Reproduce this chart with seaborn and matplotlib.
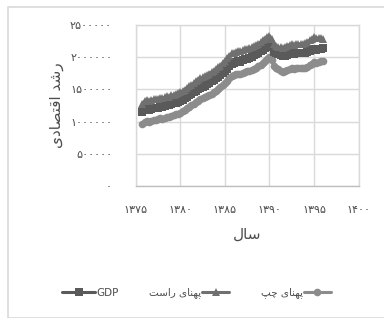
import numpy as np
import pandas as pd
import matplotlib
matplotlib.use("Agg")
import matplotlib.pyplot as plt
from matplotlib.patches import Rectangle
import seaborn as sns

# quarterly series, 1375 Q4 .. 1396 Q1 (solar hijri years)
years = np.arange(1375.75, 1396.01, 0.25)

gdp = [1150000, 1185000, 1195000, 1180000, 1200000, 1210000, 1205000, 1215000, 1230000, 1225000,
       1240000, 1255000, 1250000, 1270000, 1285000, 1295000, 1305000, 1320000, 1340000, 1360000,
       1385000, 1405000, 1430000, 1455000, 1480000, 1505000, 1525000, 1540000, 1560000, 1585000,
       1600000, 1625000, 1645000, 1670000, 1695000, 1725000, 1760000, 1790000, 1820000, 1860000,
       1895000, 1905000, 1920000, 1935000, 1930000, 1950000, 1965000, 1975000, 1990000, 2010000,
       2030000, 2050000, 2070000, 2090000, 2115000, 2140000, 2170000, 2190000, 2150000, 2080000,
       2060000, 2045000, 2030000, 2015000, 2020000, 2040000, 2055000, 2060000, 2050000, 2065000,
       2070000, 2060000, 2065000, 2070000, 2080000, 2095000, 2110000, 2120000, 2115000, 2125000,
       2130000, 2135000]

band_right = [1280000, 1320000, 1335000, 1315000, 1340000, 1350000, 1345000, 1355000, 1370000, 1360000,
              1380000, 1395000, 1385000, 1405000, 1420000, 1430000, 1440000, 1455000, 1475000, 1495000,
              1525000, 1545000, 1570000, 1600000, 1625000, 1650000, 1670000, 1685000, 1705000, 1730000,
              1745000, 1770000, 1790000, 1815000, 1840000, 1870000, 1910000, 1945000, 1980000, 2020000,
              2060000, 2070000, 2085000, 2100000, 2090000, 2110000, 2120000, 2130000, 2140000, 2155000,
              2170000, 2185000, 2210000, 2230000, 2260000, 2285000, 2310000, 2335000, 2280000, 2200000,
              2175000, 2160000, 2150000, 2145000, 2160000, 2180000, 2195000, 2200000, 2190000, 2205000,
              2210000, 2200000, 2210000, 2215000, 2235000, 2260000, 2285000, 2305000, 2295000, 2300000,
              2290000, 2285000]

band_left = [970000, 1000000, 1010000, 995000, 1015000, 1030000, 1025000, 1035000, 1050000, 1045000,
             1060000, 1075000, 1070000, 1090000, 1105000, 1115000, 1125000, 1140000, 1160000, 1180000,
             1205000, 1225000, 1250000, 1275000, 1300000, 1325000, 1345000, 1360000, 1375000, 1400000,
             1415000, 1435000, 1455000, 1480000, 1500000, 1530000, 1565000, 1600000, 1635000, 1675000,
             1710000, 1720000, 1735000, 1745000, 1740000, 1755000, 1770000, 1780000, 1790000, 1805000,
             1820000, 1835000, 1855000, 1875000, 1905000, 1940000, 1975000, 2010000, 1950000, 1860000,
             1830000, 1810000, 1790000, 1775000, 1785000, 1805000, 1820000, 1830000, 1820000, 1830000,
             1835000, 1825000, 1830000, 1835000, 1850000, 1875000, 1900000, 1920000, 1915000, 1930000,
             1935000, 1940000]

xticks = [1375, 1380, 1385, 1390, 1395, 1400]
xtick_labels = ["۱۳۷۵", "۱۳۸۰", "۱۳۸۵", "۱۳۹۰", "۱۳۹۵", "۱۴۰۰"]
yticks = [0, 500000, 1000000, 1500000, 2000000, 2500000]
ytick_labels = ["۰", "۵۰۰۰۰۰", "۱۰۰۰۰۰۰", "۱۵۰۰۰۰۰", "۲۰۰۰۰۰۰", "۲۵۰۰۰۰۰"]

# persian labels written in shaped (presentation) forms, visual order
lbl_gdp = "GDP"
lbl_right = "\ufe96\ufeb3\ufe8d\ufead \ufeef\ufe8e\ufee8\ufeec\ufb58"   # پهنای راست
lbl_left = "\ufb57\ufb7c \ufeef\ufe8e\ufee8\ufeec\ufb58"                # پهنای چپ
xlabel = "\ufedd\ufe8e\ufeb3"                                          # سال
ylabel = "\ufeef\ufea9\ufe8e\ufebc\ufe98\ufed7\ufe8d \ufeaa\ufeb7\ufead"  # رشد اقتصادی

df = pd.DataFrame({"year": years, "gdp": gdp, "right": band_right, "left": band_left})

sns.set_style("white")
plt.rcParams["font.family"] = ["DejaVu Sans"]

fig = plt.figure(figsize=(3.84, 3.18), dpi=100)
ax = fig.add_axes([0.3534, 0.415, 0.5806, 0.5066])

sns.lineplot(data=df, x="year", y="left", ax=ax, color="#8c8c8c", marker="o",
             markersize=5.5, markeredgewidth=0, linewidth=2.2, label=lbl_left, legend=False)
sns.lineplot(data=df, x="year", y="gdp", ax=ax, color="#5a5a5a", marker="s",
             markersize=5.5, markeredgewidth=0, linewidth=2.2, label=lbl_gdp, legend=False)
sns.lineplot(data=df, x="year", y="right", ax=ax, color="#707070", marker="^",
             markersize=6, markeredgewidth=0, linewidth=2.2, label=lbl_right, legend=False)

ax.set_xlim(1375, 1400)
ax.set_ylim(0, 2500000)
ax.set_xticks(xticks)
ax.set_xticklabels(xtick_labels)
ax.set_yticks(yticks)
ax.set_yticklabels(ytick_labels)
ax.grid(True, color="#d9d9d9", linewidth=1)
ax.set_axisbelow(True)
for s in ax.spines.values():
    s.set_color("#d9d9d9")
    s.set_linewidth(1)
ax.spines["bottom"].set_color("#bfbfbf")
ax.tick_params(length=0, labelsize=8, colors="#4d4d4d")
ax.tick_params(axis="x", pad=14)
ax.tick_params(axis="y", pad=17)
ax.set_xlabel(xlabel, fontsize=11, color="#4d4d4d", labelpad=8)
ax.set_ylabel(ylabel, fontsize=11, color="#4d4d4d", labelpad=4)

h = {l: hd for hd, l in zip(*ax.get_legend_handles_labels())}
fig.legend([h[lbl_gdp]], [lbl_gdp], loc="center", bbox_to_anchor=(0.235, 0.079),
           frameon=False, fontsize=7.5, labelcolor="#4d4d4d", handlelength=3.2,
           handletextpad=0.1, markerfirst=True)
fig.legend([h[lbl_right], h[lbl_left]], [lbl_right, lbl_left], loc="center",
           bbox_to_anchor=(0.625, 0.079), ncol=2, frameon=False, fontsize=7.5,
           labelcolor="#4d4d4d", handlelength=2.6, handletextpad=0.1,
           columnspacing=3.0, markerfirst=False)

fig.patches.append(Rectangle((8 / 384, 0.0), 1.2, 1 - 7 / 318, transform=fig.transFigure,
                             fill=False, edgecolor="#d9d9d9", linewidth=1.2))

fig.savefig("out.png", dpi=100)
